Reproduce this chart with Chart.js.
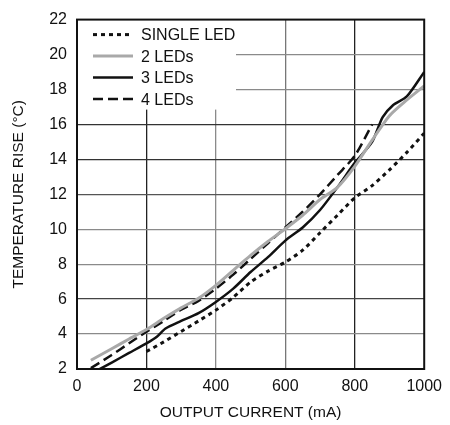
<!DOCTYPE html>
<html lang="en">
<head>
  <meta charset="UTF-8" />
  <title>Temperature Rise vs Output Current</title>
  <script src="https://cdn.jsdelivr.net/npm/chart.js"></script>
  <style>
    html, body { margin: 0; padding: 0; background: #fff; }
    #wrap { width: 450px; height: 425px; }
  </style>
</head>
<body>
  <div id="wrap"><canvas id="grafico"></canvas></div>
  <script>
    // values (mA, °C)
    const singleMA = [200, 250, 300, 350, 400, 450, 500, 550, 600, 650, 700, 750, 800, 850, 900, 950, 1000];
    const singleT  = [3.0, 3.55, 4.15, 4.75, 5.37, 6.1, 6.98, 7.6, 8.12, 8.8, 9.8, 10.8, 11.8, 12.5, 13.4, 14.4, 15.5];

    const twoMA = [40, 100, 150, 200, 250, 300, 350, 400, 450, 500, 550, 600, 650, 700, 750, 800, 850, 900, 950, 1000];
    const twoT  = [2.5, 3.16, 3.72, 4.26, 4.9, 5.5, 6.05, 6.79, 7.65, 8.5, 9.3, 10.03, 10.8, 11.7, 12.4, 13.6, 15.1, 16.5, 17.4, 18.2];

    const threeMA = [65, 100, 150, 200, 230, 255, 300, 350, 400, 450, 500, 550, 600, 650, 700, 750, 800, 850, 880, 910, 950, 1000];
    const threeT  = [2.0, 2.37, 2.92, 3.47, 3.85, 4.32, 4.75, 5.2, 5.84, 6.6, 7.55, 8.4, 9.35, 10.1, 11.1, 12.4, 13.8, 15.0, 16.4, 17.1, 17.6, 19.0];

    const fourMA = [40, 100, 150, 200, 250, 300, 350, 400, 450, 500, 550, 600, 650, 700, 750, 800, 850];
    const fourT  = [2.05, 2.8, 3.47, 4.13, 4.75, 5.4, 5.9, 6.6, 7.4, 8.3, 9.2, 10.1, 11.0, 12.0, 13.1, 14.2, 16.0];

    const xTicks = [0, 200, 400, 600, 800, 1000];
    const yTicks = [2, 4, 6, 8, 10, 12, 14, 16, 18, 20, 22];

    const fonte = '"Liberation Sans", Arial, sans-serif';

    function pontos(xs, ys) {
      return xs.map((x, i) => ({ x: x, y: ys[i] }));
    }

    // grid shades as in the scan
    const corGradeX = { 200: '#222', 400: '#8a8a8a', 600: '#777', 800: '#222' };
    const corGradeY = { 4: '#8a8a8a', 6: '#444', 8: '#8a8a8a', 10: '#8a8a8a', 12: '#555', 14: '#333', 16: '#333', 18: '#8a8a8a', 20: '#8a8a8a' };

    // legend drawn inside the plot, white box over the grid
    const legendaInterna = {
      id: 'legendaInterna',
      afterDatasetsDraw(chart) {
        const { ctx, chartArea: a } = chart;
        ctx.save();
        ctx.fillStyle = '#fff';
        ctx.fillRect(a.left, a.top, 159, 90);
        ctx.font = '16px ' + fonte;
        ctx.textBaseline = 'middle';
        chart.data.datasets.forEach((ds, i) => {
          const y = a.top + 15 + i * 21.5;
          ctx.beginPath();
          ctx.setLineDash(ds.borderDash || []);
          ctx.lineWidth = ds.borderWidth;
          ctx.strokeStyle = ds.borderColor;
          ctx.moveTo(a.left + 16, y);
          ctx.lineTo(a.left + 56, y);
          ctx.stroke();
          ctx.setLineDash([]);
          ctx.fillStyle = '#111';
          ctx.fillText(ds.label, a.left + 64, y + 1);
        });
        ctx.restore();
      }
    };

    const moldura = {
      id: 'moldura',
      afterDraw(chart) {
        const { ctx, chartArea: a } = chart;
        ctx.save();
        ctx.strokeStyle = '#111';
        ctx.lineWidth = 2;
        ctx.strokeRect(a.left, a.top, a.right - a.left, a.bottom - a.top);
        ctx.restore();
      }
    };

    new Chart(document.getElementById('grafico'), {
      type: 'line',
      data: {
        datasets: [
          { label: 'SINGLE LED', data: pontos(singleMA, singleT), borderColor: '#111', borderWidth: 3, borderDash: [4, 4] },
          { label: '2 LEDs', data: pontos(twoMA, twoT), borderColor: '#a9a9a9', borderWidth: 3 },
          { label: '3 LEDs', data: pontos(threeMA, threeT), borderColor: '#111', borderWidth: 2.5 },
          { label: '4 LEDs', data: pontos(fourMA, fourT), borderColor: '#111', borderWidth: 2.5, borderDash: [10, 5] }
        ]
      },
      options: {
        responsive: true,
        maintainAspectRatio: false,
        animation: false,
        layout: { padding: { top: 18, right: 22, left: 0, bottom: 0 } },
        elements: { point: { radius: 0 }, line: { tension: 0.25, fill: false } },
        plugins: { legend: { display: false }, tooltip: { enabled: false } },
        scales: {
          x: {
            type: 'linear',
            min: 0, max: 1000,
            afterFit: s => { s.height = 56; },
            afterBuildTicks: s => { s.ticks = xTicks.map(v => ({ value: v })); },
            border: { display: false },
            grid: { drawTicks: false, lineWidth: 1.3, color: c => corGradeX[c.tick.value] || 'rgba(0,0,0,0)' },
            ticks: { color: '#111', padding: 8, font: { family: fonte, size: 16 }, callback: v => String(v) },
            title: { display: true, text: 'OUTPUT CURRENT (mA)', color: '#111', padding: { top: 0, bottom: 3 }, font: { family: fonte, size: 15.5 } }
          },
          y: {
            min: 2, max: 22,
            afterFit: s => { s.width = 77; },
            afterBuildTicks: s => { s.ticks = yTicks.map(v => ({ value: v })); },
            border: { display: false },
            grid: { drawTicks: false, lineWidth: 1.3, color: c => corGradeY[c.tick.value] || 'rgba(0,0,0,0)' },
            ticks: { color: '#111', padding: 10, font: { family: fonte, size: 16 }, callback: v => String(v) },
            title: { display: true, text: 'TEMPERATURE RISE (°C)', color: '#111', padding: { top: 9.5, bottom: 0 }, font: { family: fonte, size: 15.5 } }
          }
        }
      },
      plugins: [legendaInterna, moldura]
    });
  </script>
</body>
</html>
